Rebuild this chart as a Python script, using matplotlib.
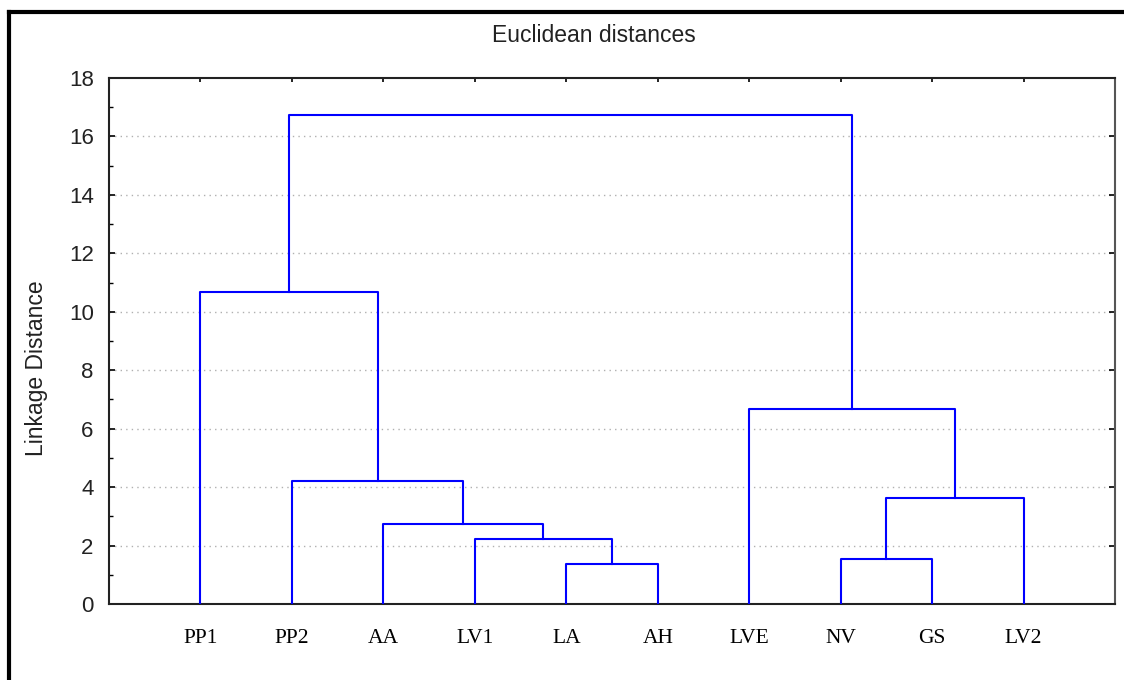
import numpy as np
import matplotlib.pyplot as plt
from matplotlib.lines import Line2D

# leaves in display order
leaves = ['PP1', 'PP2', 'AA', 'LV1', 'LA', 'AH', 'LVE', 'NV', 'GS', 'LV2']

# merges: (left cluster, right cluster, linkage distance)
merges = [
    ('LA', 'AH', 1.37),
    ('NV', 'GS', 1.55),
    ('LV1', 'LA+AH', 2.23),
    ('AA', 'LV1+LA+AH', 2.74),
    ('NV+GS', 'LV2', 3.63),
    ('PP2', 'AA+LV1+LA+AH', 4.22),
    ('LVE', 'NV+GS+LV2', 6.68),
    ('PP1', 'PP2+AA+LV1+LA+AH', 10.68),
    ('PP1+PP2+AA+LV1+LA+AH', 'LVE+NV+GS+LV2', 16.75),
]

blue = '#0000ff'
txt = '#222222'

fig = plt.figure(figsize=(11.24, 6.80), dpi=100)
ax = fig.add_axes([109 / 1124, 76 / 680, 1006 / 1124, 526 / 680])

# position and height of each node
xpos = {name: i + 1 for i, name in enumerate(leaves)}
ypos = {name: 0.0 for name in leaves}
for a, b, h in merges:
    ax.plot([xpos[a], xpos[a], xpos[b], xpos[b]],
            [ypos[a], h, h, ypos[b]], color=blue, lw=1.5, zorder=3)
    node = a + '+' + b
    xpos[node] = (xpos[a] + xpos[b]) / 2
    ypos[node] = h

ax.set_xlim(0, 11)
ax.set_ylim(0, 18)
ax.set_yticks(np.arange(0, 19, 2))
ax.set_yticks(np.arange(1, 18, 2), minor=True)
ax.set_xticks(range(1, len(leaves) + 1))
ax.set_xticklabels(leaves, fontfamily='Liberation Serif', fontsize=15.5)

for y in range(2, 18, 2):
    ax.axhline(y, color='#b0b0b0', lw=1, ls=(0, (1, 3)), zorder=1)

ax.tick_params(axis='y', which='major', direction='in', length=4, width=1.2,
               right=True, labelsize=16, pad=11, labelcolor=txt)
ax.tick_params(axis='y', which='minor', direction='in', length=3, width=1)
ax.tick_params(axis='x', direction='in', length=3, width=1.2, top=True, pad=18)
for lab in ax.get_yticklabels():
    lab.set_fontfamily('Liberation Sans')

for s in ax.spines.values():
    s.set_linewidth(1.5)
    s.set_color(txt)
ax.spines['right'].set_color('#555555')

fig.text(37 / 1124, 1 - 368 / 680, 'Linkage Distance', rotation=90, ha='center',
         va='center', fontfamily='Liberation Sans', fontsize=16.5, color=txt)
fig.text(594 / 1124, 1 - 35 / 680, 'Euclidean distances', ha='center', va='center',
         fontfamily='Liberation Sans', fontsize=16.5, color=txt)

# outer frame (left and top only)
fig.add_artist(Line2D([9 / 1124, 9 / 1124], [0, 1 - 12 / 680], color='black', lw=3,
                      transform=fig.transFigure))
fig.add_artist(Line2D([9 / 1124, 1], [1 - 12 / 680, 1 - 12 / 680],
                      color='black', lw=3, transform=fig.transFigure))

fig.savefig('out.png', dpi=100)
